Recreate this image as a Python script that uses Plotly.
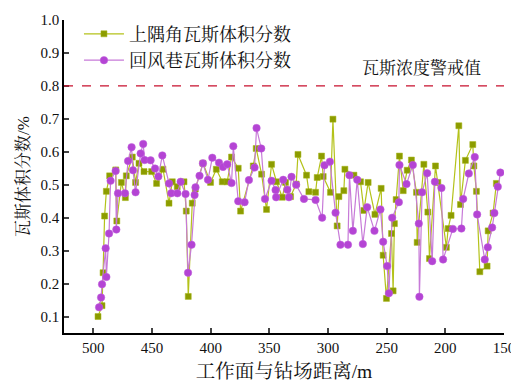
import plotly.graph_objects as go

# 上隅角瓦斯体积分数 (distance m, value %)
corner_x = [496.0, 492.6, 491.7, 490.4, 488.9, 486.1, 480.9, 480.0, 476.1, 472.7, 471.9, 466.8, 464.0,
            461.1, 456.8, 450.3, 446.1, 440.6, 435.5, 432.7, 428.5, 422.7, 420.8, 419.1, 415.7, 413.1,
            406.6, 400.1, 395.2, 390.1, 385.9, 382.2, 376.5, 374.5, 363.7, 361.2, 356.6, 352.4, 348.1,
            343.9, 339.0, 336.2, 331.9, 327.1, 325.6, 318.3, 316.3, 310.6, 309.2, 305.5, 304.1, 297.9,
            295.8, 292.2, 290.7, 286.5, 285.6, 277.9, 272.3, 269.4, 265.8, 260.0, 254.7, 253.0, 250.2,
            245.9, 244.5, 243.4, 241.9, 239.1, 235.9, 232.5, 228.9, 224.6, 224.0, 218.3, 214.9, 213.5,
            208.4, 206.4, 199.1, 197.6, 195.1, 188.5, 187.1, 182.9, 176.6, 175.7, 173.5, 170.6, 164.4,
            163.5, 159.3, 156.5]
corner_y = [0.100, 0.133, 0.233, 0.405, 0.480, 0.527, 0.545, 0.390, 0.507, 0.461, 0.527, 0.584, 0.507,
            0.565, 0.540, 0.540, 0.504, 0.547, 0.444, 0.509, 0.494, 0.509, 0.420, 0.161, 0.444, 0.487,
            0.565, 0.507, 0.547, 0.509, 0.509, 0.584, 0.550, 0.420, 0.557, 0.610, 0.532, 0.425, 0.562,
            0.509, 0.462, 0.507, 0.464, 0.502, 0.592, 0.529, 0.479, 0.477, 0.522, 0.587, 0.525, 0.477,
            0.699, 0.375, 0.464, 0.482, 0.547, 0.529, 0.509, 0.422, 0.507, 0.410, 0.489, 0.286, 0.155,
            0.352, 0.178, 0.382, 0.455, 0.587, 0.482, 0.544, 0.575, 0.477, 0.325, 0.562, 0.417, 0.276,
            0.557, 0.507, 0.310, 0.367, 0.407, 0.679, 0.440, 0.574, 0.622, 0.557, 0.480, 0.236, 0.253,
            0.360, 0.414, 0.504]

# 回风巷瓦斯体积分数
return_x = [495.1, 493.4, 492.6, 489.5, 488.9, 486.6, 485.3, 481.0, 480.4, 479.0, 473.0, 470.4, 467.4,
            466.2, 464.0, 459.7, 457.5, 456.3, 451.2, 447.4, 444.6, 441.2, 435.5, 433.6, 428.4, 425.6,
            421.4, 419.3, 416.3, 413.7, 412.9, 409.5, 406.6, 402.3, 398.6, 392.9, 389.5, 385.9, 382.2,
            380.7, 376.5, 371.1, 367.4, 362.6, 360.9, 356.9, 353.7, 348.1, 344.7, 344.2, 338.2, 334.7,
            333.3, 331.1, 327.1, 320.5, 310.6, 305.0, 303.0, 298.4, 293.6, 289.4, 283.0, 281.7, 278.8,
            275.1, 270.3, 266.6, 260.4, 255.3, 253.0, 249.6, 248.1, 245.3, 239.6, 239.1, 233.1, 227.7,
            222.6, 222.1, 219.8, 215.5, 211.2, 208.9, 203.3, 201.9, 193.6, 186.3, 184.8, 180.0, 174.9,
            172.9, 166.4, 163.8, 160.1, 158.2, 155.3, 153.1]
return_y = [0.128, 0.158, 0.198, 0.307, 0.220, 0.352, 0.512, 0.542, 0.364, 0.474, 0.474, 0.572, 0.614,
            0.544, 0.477, 0.595, 0.624, 0.575, 0.574, 0.549, 0.525, 0.589, 0.504, 0.474, 0.474, 0.509,
            0.472, 0.233, 0.318, 0.469, 0.492, 0.527, 0.565, 0.515, 0.582, 0.567, 0.554, 0.562, 0.505,
            0.617, 0.450, 0.447, 0.514, 0.552, 0.672, 0.610, 0.457, 0.512, 0.484, 0.462, 0.515, 0.485,
            0.462, 0.524, 0.500, 0.457, 0.454, 0.400, 0.559, 0.570, 0.415, 0.318, 0.318, 0.529, 0.360,
            0.515, 0.320, 0.432, 0.360, 0.425, 0.327, 0.253, 0.171, 0.400, 0.447, 0.560, 0.502, 0.560,
            0.382, 0.160, 0.477, 0.535, 0.268, 0.509, 0.490, 0.273, 0.366, 0.367, 0.457, 0.534, 0.584,
            0.410, 0.273, 0.310, 0.370, 0.414, 0.494, 0.537]

series_names = ["上隅角瓦斯体积分数", "回风巷瓦斯体积分数"]
warning_level = 0.8
warning_label = "瓦斯浓度警戒值"
x_ticks = [500, 450, 400, 350, 300, 250, 200, 150]
y_ticks = [0.1, 0.2, 0.3, 0.4, 0.5, 0.6, 0.7, 0.8, 0.9, 1.0]
x_title = "工作面与钻场距离/m"
y_title = "瓦斯体积分数/%"

FONT = "Liberation Serif, Times New Roman, Noto Serif CJK SC, Noto Sans CJK SC, serif"

fig = go.Figure()
fig.add_trace(go.Scatter(
    x=corner_x, y=corner_y, name=series_names[0], mode="lines+markers",
    line=dict(color="#b4c21a", width=1.2),
    marker=dict(symbol="square", size=6, color="#8c9c00", line=dict(color="#a5b512", width=0.5)),
))
fig.add_trace(go.Scatter(
    x=return_x, y=return_y, name=series_names[1], mode="lines+markers",
    line=dict(color="#c77ad8", width=1.2),
    marker=dict(symbol="circle", size=7.5, color="#b444d4", line=dict(color="#c060dd", width=0.5)),
))

fig.add_hline(y=warning_level, line=dict(color="#c8102e", width=1.3, dash="dash"))
fig.add_annotation(x=220, y=warning_level, text=warning_label, showarrow=False,
                   yshift=18, font=dict(size=17, color="#111", family=FONT))

# the page body adds an 8px offset, so the figure is 8px smaller than the window
fig.update_layout(
    width=511, height=377,
    margin=dict(l=56, r=15, t=8, b=52),
    paper_bgcolor="white", plot_bgcolor="white",
    font=dict(family=FONT, size=14, color="#111"),
    showlegend=True,
    legend=dict(x=0.034, y=1.014, xanchor="left", yanchor="top", bgcolor="rgba(0,0,0,0)",
                font=dict(size=18, family=FONT), tracegroupgap=0, itemwidth=40),
)
fig.update_xaxes(
    range=[525, 150], tickvals=x_ticks, ticks="inside", ticklen=5, tickwidth=1.5,
    showline=True, linecolor="black", linewidth=1.5, showgrid=False, zeroline=False,
    tickfont=dict(size=15, family=FONT), automargin=False,
    title=dict(text=x_title, font=dict(size=19.5, family=FONT), standoff=10),
)
fig.update_yaxes(
    range=[0.05, 1.0], tickvals=y_ticks, tickformat=".1f", ticks="inside", ticklen=5, tickwidth=1.5,
    showline=True, linecolor="black", linewidth=1.5, showgrid=False, zeroline=False,
    tickfont=dict(size=15, family=FONT), automargin=False,
    title=dict(text=y_title, font=dict(size=17, family=FONT), standoff=7),
)

fig.write_html("out.html")
